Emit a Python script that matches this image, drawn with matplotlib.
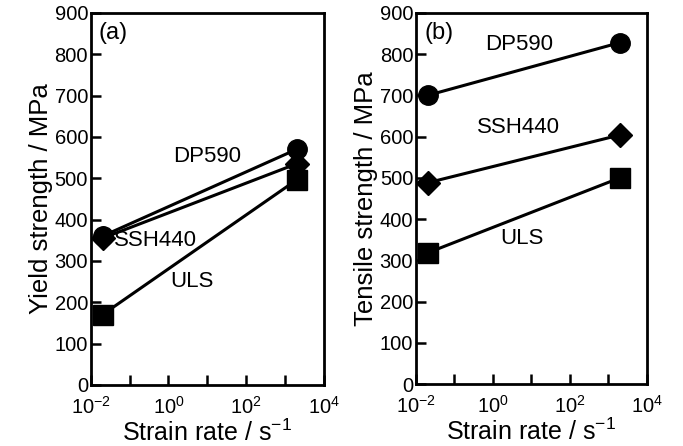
import matplotlib
matplotlib.use("Agg")
import matplotlib.pyplot as plt
from matplotlib.ticker import FixedFormatter, FixedLocator

plt.rcParams["font.family"] = ["Liberation Sans", "DejaVu Sans"]
plt.rcParams["mathtext.fontset"] = "custom"
plt.rcParams["mathtext.rm"] = "Liberation Sans"

# --- data --------------------------------------------------------------------
strain_rate = [0.02, 2000]
grades = ["DP590", "SSH440", "ULS"]
markers = ["o", "D", "s"]

yield_dp590 = [360, 570]
yield_ssh440 = [355, 535]
yield_uls = [170, 496]

tensile_dp590 = [700, 828]
tensile_ssh440 = [488, 604]
tensile_uls = [318, 500]

# label anchor points (data coords, text centre)
yield_label_x = [10, 0.47, 4.0]
yield_label_y = [552, 349, 249]
tensile_label_x = [4.7, 4.5, 5.6]
tensile_label_y = [823, 621, 354]

xtick_vals = [1e-2, 1e-1, 1e0, 1e1, 1e2, 1e3, 1e4]
xtick_text = [r"$\mathregular{10^{-2}}$", "", r"$\mathregular{10^{0}}$", "",
              r"$\mathregular{10^{2}}$", "", r"$\mathregular{10^{4}}$"]
ytick_vals = list(range(0, 1000, 100))

fig = plt.figure(figsize=(6.83, 4.46), dpi=100)
ax_a = fig.add_axes([0.133, 0.137, 0.341, 0.834])
ax_b = fig.add_axes([0.609, 0.139, 0.338, 0.832])


def draw_panel(ax, series, lab_x, lab_y, ylabel, tag):
    for vals, m, name, lx, ly in zip(series, markers, grades, lab_x, lab_y):
        ms = 12 if m == "D" else 14
        ax.plot(strain_rate, vals, color="black", lw=2.2, marker=m,
                ms=ms, clip_on=False, zorder=3)
        ax.text(lx, ly, name, ha="center", va="center", fontsize=16)
    ax.set_xscale("log")
    ax.set_xlim(1e-2, 1e4)
    ax.set_ylim(0, 900)
    ax.xaxis.set_major_locator(FixedLocator(xtick_vals))
    ax.xaxis.set_major_formatter(FixedFormatter(xtick_text))
    ax.xaxis.set_minor_locator(FixedLocator([]))
    ax.set_yticks(ytick_vals)
    ax.tick_params(direction="in", length=7, width=1.8, labelsize=14.5,
                   top=False, right=False)
    ax.tick_params(axis="x", pad=8)
    ax.tick_params(axis="y", pad=2)
    for s in ax.spines.values():
        s.set_linewidth(2)
    ax.set_xlabel("Strain rate / s$^{-1}$", fontsize=18, labelpad=1)
    ax.set_ylabel(ylabel, fontsize=18.5, labelpad=1)
    ax.text(0.035, 0.975, tag, transform=ax.transAxes, ha="left", va="top",
            fontsize=17)


draw_panel(ax_a, [yield_dp590, yield_ssh440, yield_uls],
           yield_label_x, yield_label_y, "Yield strength / MPa", "(a)")
draw_panel(ax_b, [tensile_dp590, tensile_ssh440, tensile_uls],
           tensile_label_x, tensile_label_y, "Tensile strength / MPa", "(b)")

fig.savefig("out.png", dpi=100)
